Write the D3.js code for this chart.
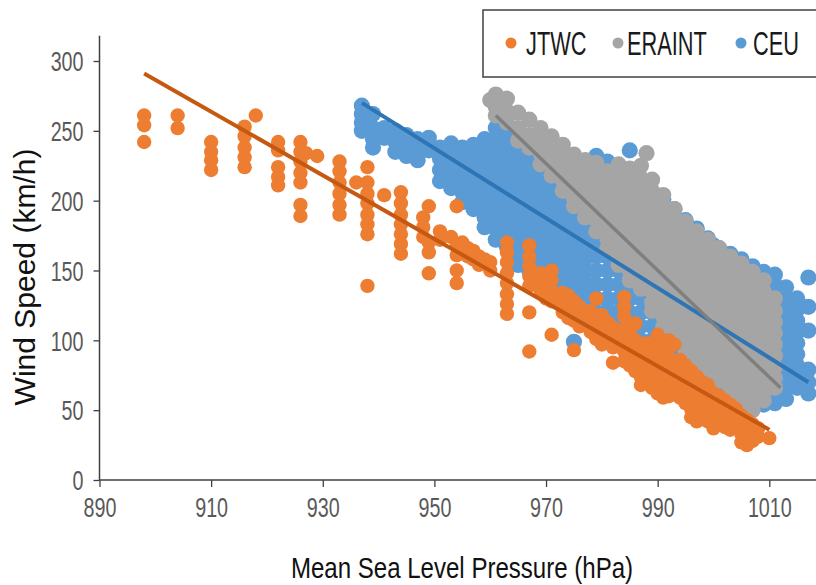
<!DOCTYPE html>
<html>
<head>
<meta charset="utf-8">
<script src="https://cdn.jsdelivr.net/npm/d3@7"></script>
<style>
  html, body { margin: 0; padding: 0; background: #fff; }
  svg { display: block; font-family: "Liberation Sans", Arial, sans-serif; }
</style>
</head>
<body>
<div id="chart"></div>
<script>
// tick labels
const xTicks = [890, 910, 930, 950, 970, 990, 1010];
const yTicks = [0, 50, 100, 150, 200, 250, 300];

const seriesNames = ["JTWC", "ERAINT", "CEU"];

// points per pressure column: [pressure (hPa), [wind speeds (km/h)]]
const jtwcColumns = [
  [898, [261, 254, 242]], [904, [261, 252]], [910, [242, 235, 229, 222]],
  [916, [253, 246, 238, 231, 224]], [918, [261]], [922, [242, 236, 224, 217, 211]],
  [926, [242, 235, 228, 220, 213, 197, 189]], [927, [234]], [929, [232]],
  [933, [228, 221, 213, 205, 197, 190]], [936, [213]],
  [938, [224, 213, 205, 198, 190, 183, 176, 139]], [941, [204]],
  [944, [206, 198, 190, 183, 176, 169, 162]], [948, [188, 181, 174]],
  [949, [196, 170, 163, 148]], [951, [178, 172]], [953, [174]],
  [954, [196, 168, 161, 150, 141]], [955, [170, 164]], [956, [166, 160]],
  [957, [164, 158]], [958, [160, 154]], [959, [158]], [960, [156, 150]],
  [963, [170, 163, 156, 148, 141, 133, 126, 119]],
  [967, [168, 160, 153, 146, 139, 120, 92]],
  [969, [148, 142, 136]], [970, [144, 138, 130]], [971, [150, 143, 135, 128, 104]],
  [973, [134, 127, 120]], [974, [132, 124, 116]], [975, [128, 121, 114, 93]],
  [976, [124, 117, 110]], [978, [121, 114, 106]], [979, [130, 116, 109, 101]],
  [980, [118, 111, 104, 97]], [981, [113, 106, 99]], [982, [109, 102, 95, 84]],
  [984, [131, 124, 117, 108, 100, 92, 85]], [985, [105, 98, 90, 82]],
  [986, [112, 100, 93, 86, 78]], [987, [96, 89, 82, 74, 68]],
  [988, [98, 92, 85, 78, 70]], [989, [94, 87, 80, 73, 66]],
  [990, [104, 96, 89, 82, 75, 68, 62]], [991, [92, 85, 78, 71, 64, 59]],
  [992, [100, 88, 81, 74, 67, 60]], [993, [97, 84, 77, 70, 63]],
  [994, [86, 80, 73, 66, 59]], [995, [82, 76, 69, 62, 55]],
  [996, [78, 72, 65, 58, 51, 45]], [997, [74, 68, 61, 54, 48, 42]],
  [998, [70, 64, 57, 50, 44]], [999, [68, 62, 55, 48, 42]],
  [1000, [62, 56, 49, 43, 37]], [1001, [60, 53, 46, 40]],
  [1002, [57, 50, 44, 38]], [1003, [54, 47, 41, 36]], [1004, [51, 44, 38]],
  [1005, [46, 40, 33, 27]], [1006, [43, 36, 30, 25]], [1007, [40, 34, 28]],
  [1008, [37, 31]], [1010, [30]]
];

const eraintColumns = [
  [960, [272]], [961, [276, 267, 261]], [963, [273, 264, 256]],
  [965, [263, 252, 243]], [967, [258, 247, 238]],
  [969, [252, 243, 234, 226]], [971, [246, 236, 227, 218]],
  [973, [240, 231, 223, 215, 207]], [975, [233, 226, 218, 210, 202, 196]],
  [977, [229, 220, 212, 204, 196, 188]], [979, [227, 218, 210, 202, 194, 186, 178]],
  [981, [221, 213, 205, 197, 189, 181, 173, 166]],
  [983, [226, 218, 210, 202, 194, 186, 178, 170, 162, 154]],
  [985, [223, 214, 206, 198, 190, 182, 174, 166, 158, 150, 143]],
  [987, [225, 216, 208, 200, 192, 184, 176, 168, 160, 152, 144, 137]],
  [988, [234]],
  [989, [215, 207, 199, 191, 183, 175, 167, 159, 151, 143, 135, 127, 121]],
  [991, [204, 197, 189, 181, 173, 165, 157, 149, 141, 133, 125, 117, 110]],
  [993, [194, 187, 179, 171, 163, 155, 147, 139, 131, 123, 115, 107, 100]],
  [995, [185, 178, 170, 162, 154, 146, 138, 130, 122, 114, 106, 98, 92]],
  [997, [178, 170, 162, 154, 146, 138, 130, 122, 114, 106, 98, 90, 84]],
  [999, [172, 164, 156, 148, 140, 132, 124, 116, 108, 100, 92, 85, 78]],
  [1001, [166, 158, 150, 142, 134, 126, 118, 110, 102, 94, 86, 78, 71]],
  [1003, [160, 152, 144, 136, 128, 120, 112, 104, 96, 88, 80, 72, 65, 60]],
  [1005, [155, 147, 139, 131, 123, 115, 107, 99, 91, 83, 75, 67, 59, 53]],
  [1007, [149, 141, 133, 125, 117, 109, 101, 93, 85, 77, 69, 61, 54, 50]],
  [1009, [143, 135, 127, 119, 111, 103, 95, 87, 79, 71, 63, 57]],
  [1011, [130, 121, 113, 105, 97, 89, 81, 73, 66]]
];

const ceuColumns = [
  [937, [268, 262, 256, 250]], [939, [262, 252, 244, 238]], [941, [252, 245]],
  [943, [250, 242, 235]], [945, [247, 240, 232]], [947, [244, 236, 229]],
  [949, [245, 236]], [951, [238, 230, 222, 214]], [953, [241, 233, 225, 217, 209]],
  [955, [238, 230, 222, 214, 206, 199]], [957, [240, 232, 224, 216, 208, 200, 194]],
  [959, [244, 236, 228, 220, 212, 204, 196, 188, 181]],
  [961, [252, 244, 236, 228, 220, 212, 204, 196, 188, 180, 172]],
  [963, [247, 238, 230, 222, 214, 206, 198, 190, 182, 174, 167]],
  [965, [240, 232, 224, 216, 208, 200, 192, 184, 176, 168, 160, 154]],
  [967, [236, 228, 220, 212, 204, 196, 188, 180, 172, 164, 156, 150]],
  [969, [232, 224, 216, 208, 200, 192, 184, 176, 168, 160, 152, 146]],
  [971, [229, 220, 212, 204, 196, 188, 180, 172, 164, 156, 148, 140]],
  [973, [226, 218, 210, 202, 194, 186, 178, 170, 162, 154, 146, 138, 130]],
  [975, [224, 216, 208, 200, 192, 184, 176, 168, 160, 152, 144, 136, 128, 120, 99]],
  [977, [222, 214, 206, 198, 190, 182, 174, 166, 158, 150, 142, 134, 126, 118]],
  [979, [232, 224, 216, 208, 200, 170, 160, 150, 140, 130, 120, 112]],
  [981, [228, 220, 210, 200, 160, 150, 140, 130, 122, 114]],
  [983, [150, 140, 130, 120, 112, 104]], [985, [236, 140, 130, 120, 110, 102]],
  [986, [216]], [987, [130, 120, 110, 100]], [989, [206, 120, 110, 100, 94]],
  [991, [201, 195, 110, 100, 92, 85]], [993, [194, 100, 92, 84]],
  [995, [186, 92, 84, 76]], [997, [180, 84, 76]], [999, [173, 78, 72]],
  [1000, [168]], [1001, [166, 72, 64]], [1003, [162, 66, 59]],
  [1005, [158, 62, 56]], [1007, [153, 58, 52]],
  [1009, [149, 140, 130, 120, 110, 100, 90, 80, 70, 61, 54]],
  [1011, [147, 140, 132, 124, 116, 108, 100, 92, 84, 76, 68, 60, 55]],
  [1013, [138, 130, 122, 114, 106, 98, 90, 82, 74, 66, 58]],
  [1015, [130, 122, 114, 106, 98, 90, 82, 74, 66]],
  [1017, [145, 124, 107, 79, 70, 62]]
];

// linear trend lines, end points
const jtwcTrend = [[898, 291], [1010, 36]];
const eraintTrend = [[961, 261], [1012, 66]];
const ceuTrend = [[937, 270], [1017, 70]];

(() => {
  const width = 816, height = 585;

  const colors = { JTWC: "#ED7D31", ERAINT: "#A5A5A5", CEU: "#5B9BD5" };
  const lineColors = { JTWC: "#C65911", ERAINT: "#7F7F7F", CEU: "#2E75B6" };
  // dense series get a slightly bigger dot so the clouds close up
  const radius = { JTWC: 7.2, ERAINT: 8.1, CEU: 8.1 };

  const x = d3.scaleLinear().domain([890, 1010]).range([99.5, 769.3]);
  const y = d3.scaleLinear().domain([0, 300]).range([480, 61]);

  const svg = d3.select("#chart").append("svg")
    .attr("width", width)
    .attr("height", height);

  const flat = cols => cols.flatMap(([p, ws]) => ws.map(w => ({ p, w })));

  // draw order: CEU at the bottom, ERAINT, JTWC on top
  const layers = [
    ["CEU", flat(ceuColumns)],
    ["ERAINT", flat(eraintColumns)],
    ["JTWC", flat(jtwcColumns)]
  ];

  layers.forEach(([name, pts]) => {
    svg.append("g")
      .selectAll("circle")
      .data(pts)
      .join("circle")
      .attr("cx", d => x(d.p))
      .attr("cy", d => y(d.w))
      .attr("r", radius[name])
      .attr("fill", colors[name]);
  });

  // trend lines
  const line = d3.line().x(d => x(d[0])).y(d => y(d[1]));
  [["JTWC", jtwcTrend, 4], ["CEU", ceuTrend, 4], ["ERAINT", eraintTrend, 3.5]].forEach(([name, t, sw]) => {
    svg.append("path")
      .attr("d", line(t))
      .attr("fill", "none")
      .attr("stroke", lineColors[name])
      .attr("stroke-width", sw);
  });

  // x axis
  const xAxis = svg.append("g")
    .attr("transform", `translate(0,${y(0)})`)
    .call(d3.axisBottom(x).tickValues(xTicks).tickFormat(d3.format("d")).tickSize(7).tickSizeOuter(0));
  xAxis.select(".domain").remove();
  xAxis.append("line")
    .attr("x1", x(890)).attr("x2", width)
    .attr("stroke", "#404040").attr("stroke-width", 1.5);
  xAxis.selectAll(".tick line").attr("stroke", "#404040").attr("stroke-width", 1.3);
  xAxis.selectAll(".tick text")
    .attr("y", null).attr("dy", null)
    .attr("transform", "translate(0,37) scale(0.73,1)")
    .attr("fill", "#595959")
    .attr("font-size", 27)
    .attr("font-family", "Liberation Sans, Arial, sans-serif");

  // y axis
  const yAxis = svg.append("g")
    .attr("transform", `translate(${x(890)},0)`)
    .call(d3.axisLeft(y).tickValues(yTicks).tickSize(6).tickSizeOuter(0));
  yAxis.select(".domain").remove();
  yAxis.append("line")
    .attr("y1", y(0)).attr("y2", y(318))
    .attr("stroke", "#404040").attr("stroke-width", 1.5);
  yAxis.selectAll(".tick line").attr("stroke", "#404040").attr("stroke-width", 1.3);
  yAxis.selectAll(".tick text")
    .attr("x", null).attr("dy", "0.36em")
    .attr("transform", "translate(-16,0) scale(0.73,1)")
    .attr("fill", "#595959")
    .attr("font-size", 27)
    .attr("font-family", "Liberation Sans, Arial, sans-serif");

  // axis titles
  svg.append("text")
    .attr("transform", "translate(462,578) scale(0.83,1)")
    .attr("text-anchor", "middle")
    .attr("font-size", 29)
    .attr("fill", "#111")
    .text("Mean Sea Level Pressure (hPa)");

  svg.append("text")
    .attr("transform", "translate(35,277) rotate(-90)")
    .attr("text-anchor", "middle")
    .attr("font-size", 30)
    .attr("fill", "#111")
    .text("Wind Speed (km/h)");

  // legend
  const legend = svg.append("g");
  legend.append("rect")
    .attr("x", 483).attr("y", 10)
    .attr("width", 400).attr("height", 67)
    .attr("fill", "#fff")
    .attr("stroke", "#404040")
    .attr("stroke-width", 1.5);

  const legendX = [511, 618, 741];
  const item = legend.selectAll("g.item")
    .data(seriesNames)
    .join("g")
    .attr("class", "item")
    .attr("transform", (d, i) => `translate(${legendX[i]},43)`);
  item.append("circle")
    .attr("r", 5.5)
    .attr("fill", d => colors[d]);
  item.append("text")
    .attr("transform", d => `translate(${d === "JTWC" ? 15 : d === "ERAINT" ? 9 : 12},12) scale(0.64,1)`)
    .attr("font-size", 34)
    .attr("fill", "#1a1a1a")
    .text(d => d);
})();
</script>
</body>
</html>
